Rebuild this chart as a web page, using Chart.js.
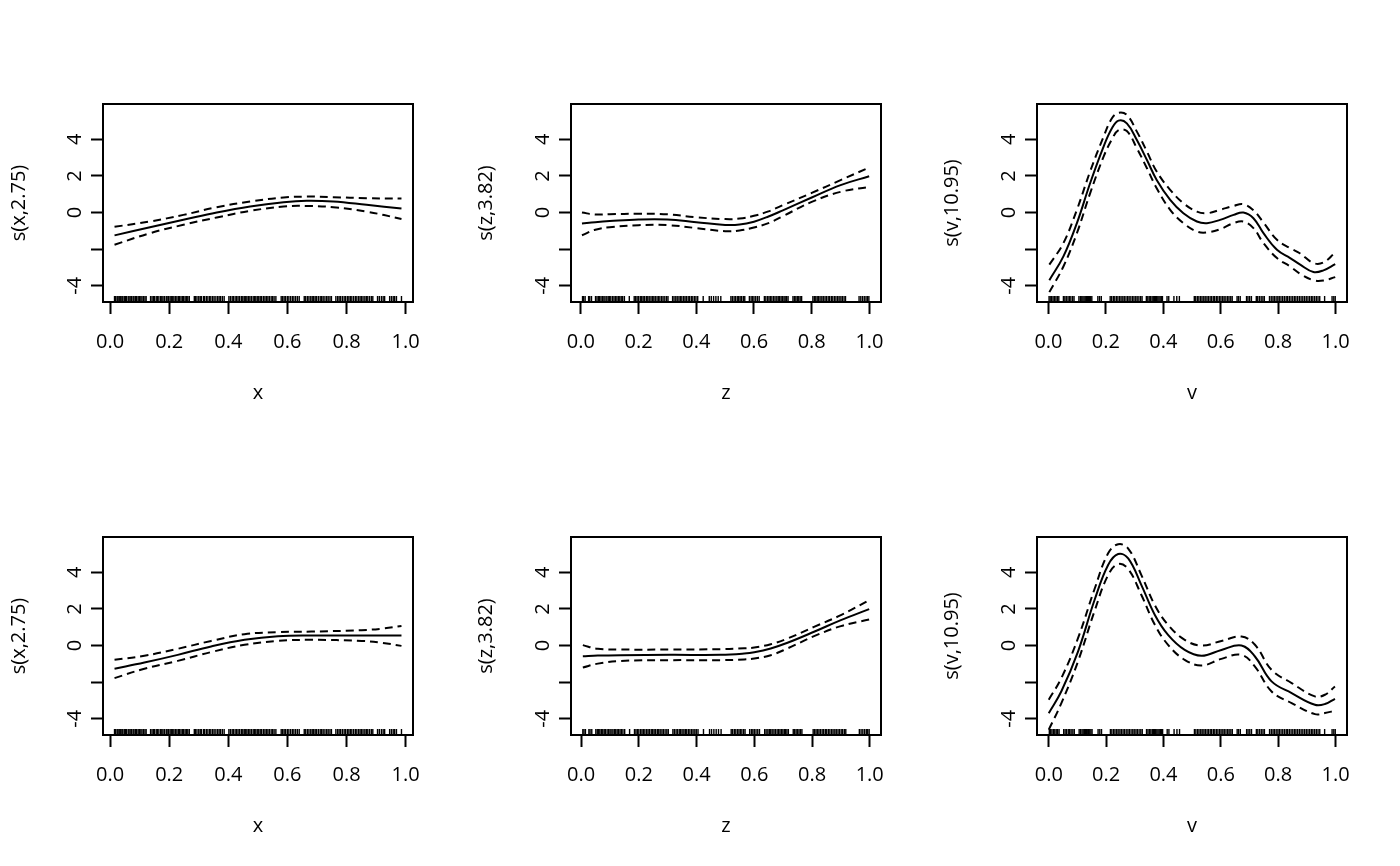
<!DOCTYPE html>
<html><head><meta charset="utf-8">
<script src="https://cdn.jsdelivr.net/npm/chart.js@4.4.1/dist/chart.umd.min.js"></script>
<style>
html,body{margin:0;padding:0;background:#fff;width:1400px;height:866px;overflow:hidden;}
canvas{position:absolute;}
</style></head><body>
<script>
// ---------- tick definitions ----------
const xTicks = [0, 0.2, 0.4, 0.6, 0.8, 1.0];
const xTickLabels = ['0.0', '0.2', '0.4', '0.6', '0.8', '1.0'];
const yTicks = [-4, -2, 0, 2, 4];
const yTickLabels = ['-4', '', '0', '2', '4'];

// ---------- panel 1 : top x ----------
const xTopX   = [0.015, 0.135, 0.248, 0.361, 0.474, 0.587, 0.665, 0.755, 0.868, 0.986];
const xTopFit = [-1.25, -0.80, -0.40, 0.00, 0.33, 0.56, 0.64, 0.60, 0.42, 0.22];
const xTopUp  = [-0.78, -0.49, -0.13, 0.29, 0.60, 0.82, 0.87, 0.84, 0.78, 0.76];
const xTopLo  = [-1.76, -1.13, -0.67, -0.27, 0.09, 0.33, 0.36, 0.29, 0.05, -0.35];

// ---------- panel 2 : top z ----------
const zTopX   = [0.004, 0.05, 0.10, 0.20, 0.30, 0.40, 0.50, 0.55, 0.60, 0.65, 0.70, 0.80, 0.90, 0.999];
const zTopFit = [-0.60, -0.53, -0.47, -0.38, -0.38, -0.53, -0.68, -0.66, -0.50, -0.22, 0.12, 0.82, 1.50, 1.98];
const zTopUp  = [0.00, -0.11, -0.09, -0.07, -0.10, -0.26, -0.36, -0.33, -0.18, 0.06, 0.40, 1.07, 1.77, 2.46];
const zTopLo  = [-1.24, -0.94, -0.80, -0.69, -0.69, -0.85, -1.02, -0.98, -0.82, -0.58, -0.20, 0.58, 1.13, 1.40];

// ---------- panel 3 : top v ----------
const vTopX   = [0.003, 0.052, 0.099, 0.145, 0.192, 0.221, 0.244, 0.273, 0.308, 0.343, 0.377, 0.424, 0.470, 0.517, 0.552, 0.598, 0.645, 0.679, 0.714, 0.749, 0.796, 0.842, 0.877, 0.923, 0.958, 0.999];
const vTopFit = [-3.70, -2.40, -0.58, 1.60, 3.60, 4.60, 5.02, 4.87, 3.96, 2.87, 1.78, 0.69, -0.04, -0.49, -0.58, -0.40, -0.13, 0.00, -0.31, -1.13, -2.04, -2.49, -2.85, -3.25, -3.16, -2.82];
const vTopUp  = [-2.85, -1.67, 0.15, 2.24, 4.15, 5.15, 5.45, 5.33, 4.42, 3.33, 2.24, 1.24, 0.51, 0.05, -0.04, 0.15, 0.36, 0.45, 0.12, -0.55, -1.49, -1.95, -2.24, -2.76, -2.73, -2.18];
const vTopLo  = [-4.35, -2.95, -1.13, 1.05, 3.05, 4.00, 4.50, 4.45, 3.51, 2.42, 1.33, 0.15, -0.58, -1.04, -1.09, -0.91, -0.58, -0.49, -0.85, -1.67, -2.49, -2.95, -3.35, -3.70, -3.72, -3.53];

// ---------- panel 4 : bottom x ----------
const xBotX   = [0.015, 0.116, 0.229, 0.342, 0.455, 0.568, 0.681, 0.851, 0.920, 0.986];
const xBotFit = [-1.27, -0.93, -0.51, -0.05, 0.31, 0.51, 0.55, 0.55, 0.55, 0.55];
const xBotUp  = [-0.78, -0.56, -0.18, 0.25, 0.62, 0.73, 0.76, 0.84, 0.92, 1.07];
const xBotLo  = [-1.78, -1.27, -0.84, -0.36, 0.04, 0.25, 0.31, 0.25, 0.15, -0.02];

// ---------- panel 5 : bottom z ----------
const zBotX   = [0.006, 0.058, 0.138, 0.311, 0.484, 0.565, 0.600, 0.657, 0.715, 0.807, 0.900, 0.998];
const zBotFit = [-0.58, -0.55, -0.53, -0.51, -0.51, -0.44, -0.37, -0.16, 0.15, 0.75, 1.39, 1.99];
const zBotUp  = [0.02, -0.18, -0.22, -0.22, -0.20, -0.15, -0.11, 0.07, 0.38, 1.02, 1.66, 2.48];
const zBotLo  = [-1.20, -0.99, -0.84, -0.80, -0.80, -0.76, -0.71, -0.53, -0.16, 0.51, 1.06, 1.42];

// ---------- panel 6 : bottom v ----------
const vBotX   = [0.000, 0.044, 0.102, 0.160, 0.207, 0.242, 0.277, 0.323, 0.370, 0.416, 0.474, 0.533, 0.602, 0.672, 0.719, 0.777, 0.847, 0.928, 0.963, 0.998];
const vBotFit = [-3.70, -2.50, -0.33, 2.50, 4.40, 5.00, 4.76, 3.30, 1.67, 0.58, -0.24, -0.56, -0.24, 0.00, -0.60, -1.96, -2.60, -3.24, -3.20, -2.91];
const vBotUp  = [-2.96, -1.78, 0.40, 3.10, 5.04, 5.53, 5.30, 3.85, 2.20, 1.13, 0.31, 0.00, 0.25, 0.49, 0.04, -1.33, -2.05, -2.78, -2.69, -2.24];
const vBotLo  = [-4.60, -3.15, -0.87, 1.90, 3.85, 4.45, 4.18, 2.76, 1.13, 0.04, -0.78, -1.09, -0.73, -0.51, -1.15, -2.51, -3.15, -3.75, -3.69, -3.56];

// ---------- rugs (observed covariate values) ----------
const xRug = [0.015,0.019,0.024,0.027,0.031,0.036,0.040,0.043,0.048,0.052,0.055,0.061,0.064,0.068,0.073,0.078,0.081,0.086,0.090,0.095,0.099,0.104,0.108,0.113,0.118,0.122,
0.137,0.142,0.147,0.150,0.156,0.160,0.165,0.171,0.175,0.179,0.184,0.190,0.193,0.198,0.203,0.207,0.212,0.216,0.221,0.226,0.231,0.235,0.240,0.245,0.249,0.254,0.259,0.263,0.268,
0.285,0.289,0.294,0.300,0.305,0.309,0.316,0.320,0.326,0.331,0.337,0.341,0.347,0.352,0.358,0.364,0.369,0.374,0.380,0.386,
0.402,0.407,0.413,0.417,0.423,0.428,0.433,0.438,0.444,0.449,0.454,0.459,0.463,0.468,0.473,0.478,0.484,0.488,0.493,0.498,0.503,0.508,0.513,0.519,0.524,0.529,0.534,0.539,0.545,0.550,0.555,0.561,
0.579,0.584,0.589,0.594,0.600,0.605,0.611,0.617,0.622,0.628,0.634,0.640,
0.657,0.662,0.668,0.673,0.679,0.684,0.689,0.694,0.699,0.705,0.711,0.716,0.721,0.727,0.733,0.738,0.744,0.749,
0.764,0.770,0.775,0.780,0.786,0.792,0.797,0.803,0.808,0.813,0.818,0.824,0.830,0.835,0.841,0.846,0.851,0.856,0.862,0.867,0.872,0.878,0.884,0.889,
0.905,0.911,0.918,0.924,0.929,0.946,0.952,0.958,0.963,0.969,0.986];

const zRug = [0.006,0.010,0.015,0.027,0.031,0.037,0.051,0.056,0.061,0.065,0.070,0.075,0.080,0.084,0.090,0.095,0.100,0.104,0.110,0.115,0.120,0.125,0.130,0.135,0.140,0.145,0.151,
0.168,0.185,0.190,0.195,0.200,0.206,0.211,0.216,0.221,0.227,0.232,0.237,0.243,0.248,0.253,0.258,0.264,0.269,0.274,0.280,0.285,0.291,0.297,0.302,
0.318,0.323,0.329,0.334,0.340,0.345,0.350,0.356,0.361,0.366,0.372,0.377,0.383,0.388,0.394,0.399,0.405,
0.424,0.445,0.452,0.460,0.468,0.476,0.485,
0.520,0.525,0.531,0.536,0.542,0.547,0.552,0.557,0.563,0.568,
0.584,0.590,0.595,0.600,0.606,0.612,0.618,
0.636,0.641,0.647,0.652,0.657,0.662,0.668,0.673,0.679,0.684,0.689,0.694,0.699,0.704,0.708,0.713,0.718,
0.735,0.740,0.745,0.750,0.755,0.760,0.765,
0.804,0.809,0.814,0.819,0.824,0.829,0.835,0.840,0.846,0.851,0.857,0.862,0.868,0.873,0.879,0.884,0.890,0.895,0.901,0.906,0.912,0.917,
0.964,0.970,0.976,0.982,0.988,0.993,0.998];

const vRug = [0.002,0.006,0.011,0.016,0.021,0.026,0.031,0.036,0.052,0.057,0.062,0.068,0.073,0.078,0.084,0.089,
0.106,0.111,0.116,0.120,0.124,0.128,0.132,0.136,0.139,0.143,0.147,0.151,0.172,0.178,0.184,
0.215,0.220,0.226,0.231,0.237,0.242,0.248,0.253,0.259,0.264,0.270,0.276,0.281,0.287,0.293,0.298,0.304,0.309,0.315,0.321,0.326,
0.341,0.346,0.351,0.356,0.361,0.365,0.369,0.373,0.377,0.381,0.385,0.389,0.393,0.397,
0.413,0.419,0.437,0.447,0.456,
0.508,0.513,0.519,0.524,0.530,0.535,0.541,0.546,0.552,0.557,0.563,0.568,0.574,0.579,0.585,0.590,0.596,0.601,0.607,0.612,0.618,0.624,0.629,0.635,0.640,
0.657,0.662,0.668,0.690,0.695,0.701,0.707,0.724,0.729,0.735,0.741,0.747,0.752,
0.770,0.776,0.782,0.787,0.793,0.799,0.804,0.810,0.816,0.822,0.828,0.833,0.839,0.845,0.851,0.857,0.862,0.868,0.874,0.880,0.886,0.892,0.898,0.904,0.910,0.916,0.921,0.927,0.933,0.939,0.945,
0.962,0.988,0.994,0.999];

// ---------- panel configuration ----------
const panels = [
  {row:0, col:0, xt:'x', yt:'s(x,2.75)',  xs:xTopX, fit:xTopFit, up:xTopUp, lo:xTopLo, rug:xRug, xMin:-0.024, xMax:1.025},
  {row:0, col:1, xt:'z', yt:'s(z,3.82)',  xs:zTopX, fit:zTopFit, up:zTopUp, lo:zTopLo, rug:zRug, xMin:-0.034, xMax:1.040},
  {row:0, col:2, xt:'v', yt:'s(v,10.95)', xs:vTopX, fit:vTopFit, up:vTopUp, lo:vTopLo, rug:vRug, xMin:-0.040, xMax:1.040},
  {row:1, col:0, xt:'x', yt:'s(x,2.75)',  xs:xBotX, fit:xBotFit, up:xBotUp, lo:xBotLo, rug:xRug, xMin:-0.024, xMax:1.025},
  {row:1, col:1, xt:'z', yt:'s(z,3.82)',  xs:zBotX, fit:zBotFit, up:zBotUp, lo:zBotLo, rug:zRug, xMin:-0.035, xMax:1.039},
  {row:1, col:2, xt:'v', yt:'s(v,10.95)', xs:vBotX, fit:vBotFit, up:vBotUp, lo:vBotLo, rug:vRug, xMin:-0.041, xMax:1.040}
];
const Y_MIN = -4.89, Y_MAX = 5.93;

// layout (page pixels)
const colLeft = [0, 467, 933], colW = [467, 466, 467];
const rowTop = [0, 433], rowH = 433;
const areaL = [103, 571, 1037], areaR = [413, 881, 1347];
const areaT = [104, 537], areaB = [302, 735];

const FONT = {family: "'Open Sans', sans-serif", size: 20};
const INK = '#000';

const framePlugin = {
  id: 'frame',
  afterDatasetsDraw(chart) {
    const a = chart.chartArea, c = chart.ctx;
    c.save(); c.strokeStyle = INK; c.lineWidth = 2;
    c.strokeRect(a.left, a.top, a.right - a.left, a.bottom - a.top);
    c.restore();
  }
};

panels.forEach(p => {
  const cv = document.createElement('canvas');
  const W = colW[p.col], H = rowH;
  cv.width = W; cv.height = H;
  cv.style.left = colLeft[p.col] + 'px'; cv.style.top = rowTop[p.row] + 'px';
  cv.style.width = W + 'px'; cv.style.height = H + 'px';
  document.body.appendChild(cv);

  const yAxisW = areaL[p.col] - colLeft[p.col];
  const xAxisH = rowTop[p.row] + H - areaB[p.row];
  const padTop = areaT[p.row] - rowTop[p.row];
  const padRight = colLeft[p.col] + W - areaR[p.col];

  const pts = arr => p.xs.map((x, i) => ({x: x, y: arr[i]}));
  const lineDs = (arr, dash) => ({
    type: 'line', data: pts(arr), borderColor: INK, borderWidth: 2,
    borderDash: dash, pointRadius: 0, tension: 0.4, fill: false
  });

  new Chart(cv, {
    data: {
      datasets: [
        lineDs(p.fit, []),
        lineDs(p.up, [8, 5]),
        lineDs(p.lo, [8, 5]),
        {
          type: 'scatter', data: p.rug.map(x => ({x: x, y: Y_MIN})),
          pointStyle: 'line', rotation: 90, radius: 6, pointRadius: 6,
          borderColor: INK, borderWidth: 1.4, clip: 0
        }
      ]
    },
    options: {
      responsive: false, animation: false, events: [],
      layout: {padding: {left: 0, top: padTop, right: padRight, bottom: 0}},
      plugins: {legend: {display: false}, tooltip: {enabled: false}},
      scales: {
        x: {
          type: 'linear', position: 'bottom', min: p.xMin, max: p.xMax,
          afterBuildTicks: s => { s.ticks = xTicks.map(v => ({value: v})); },
          afterFit: s => { s.height = xAxisH; },
          grid: {drawOnChartArea: false, drawTicks: true, tickLength: 12, tickWidth: 2, tickColor: INK},
          border: {display: false},
          ticks: {color: INK, font: FONT, padding: 16, autoSkip: false, maxRotation: 0, minRotation: 0,
                  callback: (v, i) => xTickLabels[i]},
          title: {display: true, text: p.xt, color: INK, font: FONT, padding: {top: 0, bottom: 28}}
        },
        y: {
          type: 'linear', position: 'left', min: Y_MIN, max: Y_MAX,
          afterBuildTicks: s => { s.ticks = yTicks.map(v => ({value: v})); },
          afterFit: s => { s.width = yAxisW; },
          grid: {drawOnChartArea: false, drawTicks: true, tickLength: 12, tickWidth: 2, tickColor: INK},
          border: {display: false},
          ticks: {color: INK, font: FONT, padding: 7, minRotation: 90, maxRotation: 90, crossAlign: 'center',
                  autoSkip: false, callback: (v, i) => yTickLabels[i]},
          title: {display: true, text: p.yt, color: INK, font: FONT, padding: {top: 7, bottom: 0}}
        }
      }
    },
    plugins: [framePlugin]
  });
});
</script>
</body></html>
